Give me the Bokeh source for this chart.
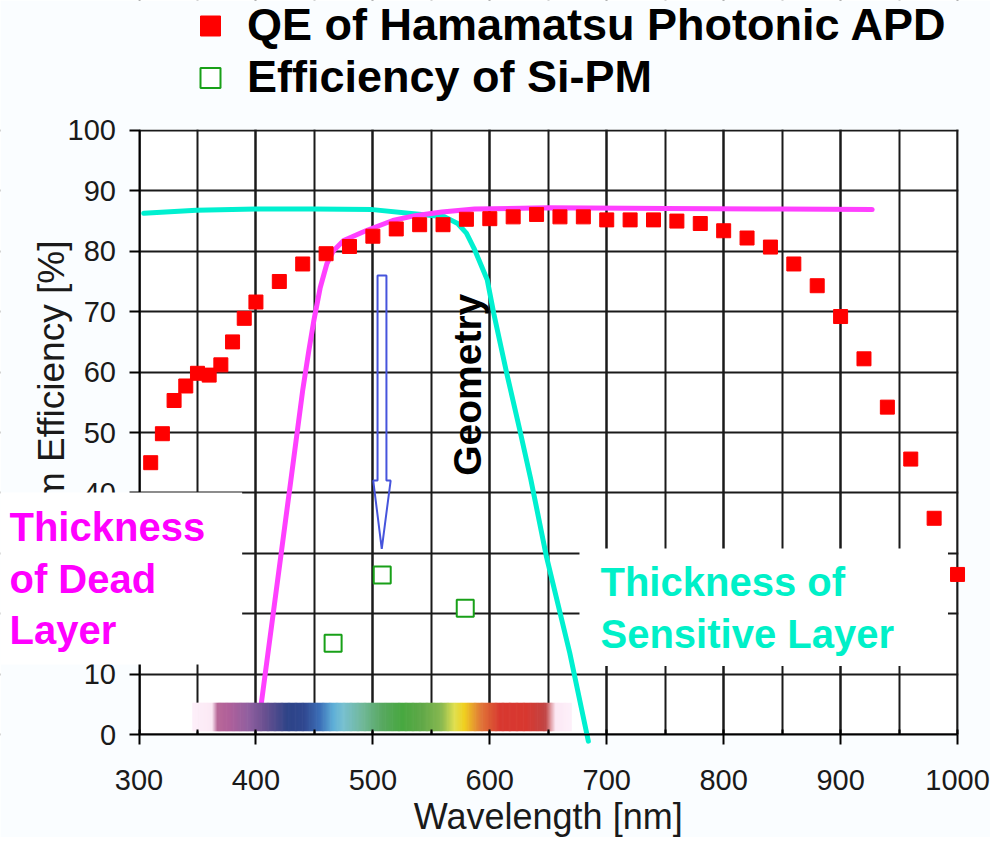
import math
from bokeh.plotting import figure
from bokeh.models import (Range1d, SingleIntervalTicker, Label, Legend, LegendItem,
                          BoxAnnotation)
from bokeh.embed import file_html
from bokeh.resources import INLINE

# ---------------- data ----------------
apd_wavelength = [310, 320, 330, 340, 350, 360, 370, 380, 390, 400,
                  420, 440, 460, 480, 500, 520, 540, 560, 580, 600,
                  620, 640, 660, 680, 700, 720, 740, 760, 780, 800,
                  820, 840, 860, 880, 900, 920, 940, 960, 980, 1000]
apd_qe = [45.0, 49.8, 55.3, 57.7, 59.8, 59.5, 61.2, 65.0, 68.9, 71.6,
          75.0, 77.9, 79.6, 80.8, 82.5, 83.7, 84.4, 84.4, 85.3, 85.4,
          85.7, 86.1, 85.7, 85.7, 85.2, 85.2, 85.2, 85.0, 84.6, 83.4,
          82.2, 80.7, 77.9, 74.3, 69.2, 62.2, 54.2, 45.6, 35.8, 26.5]

sipm_wavelength = [466, 508, 579]
sipm_eff = [15.1, 26.4, 20.9]

dead_layer_wl = [404.7, 429.8, 440.0, 445.2, 449.5, 455.0, 460.6, 466.3, 475.0,
                 494.0, 517.0, 536.0, 559.0, 587.0, 650.0, 750.0, 850.0, 927.0]
dead_layer_val = [5.3, 42.0, 57.0, 63.5, 68.5, 74.0, 77.9, 80.1, 81.8,
                  83.4, 85.1, 85.9, 86.5, 87.0, 87.2, 87.1, 87.0, 86.9]

sens_layer_wl = [304.0, 349.0, 400.0, 449.6, 499.8, 530.6, 561.5, 572.5, 580.0,
                 586.5, 597.8, 603.4, 614.6, 625.8, 635.0, 648.5, 668.4, 684.3]
sens_layer_val = [86.3, 86.8, 87.0, 87.0, 86.9, 86.3, 85.7, 84.6, 83.0,
                  80.5, 75.3, 69.7, 59.7, 50.3, 42.3, 29.4, 13.5, -1.1]

# colour bar of the visible spectrum (stops in nm, colours)
spectrum_nm = [345.5, 362.5, 367.0, 376.8, 393.5, 407.5, 427.1, 441.1, 454.8, 466.3,
               474.7, 491.4, 508.2, 525.0, 541.8, 558.5, 569.7, 578.1, 592.1, 608.9,
               630.9, 647.7, 656.1, 670.4]
spectrum_colors = ["#FDF0FA", "#FBE8F4", "#B86898", "#B0609A", "#9060A0", "#6A5090",
                   "#2E4488", "#304890", "#3C70B8", "#60B0D8", "#78C0D0", "#70B898",
                   "#58A860", "#48A840", "#60A848", "#88B850", "#E0E050", "#F0D020",
                   "#E07838", "#D83830", "#D83830", "#C04444", "#FCE8F4", "#FDF0FA"]
spectrum_bottom, spectrum_top = 0.55, 5.25

# hollow arrow outline (nm, %)
arrow_x = [504.0, 511.6, 511.6, 515.2, 507.6, 500.3, 504.0]
arrow_y = [76.0, 76.0, 42.05, 42.05, 30.75, 42.05, 42.05]

x_axis_start, x_axis_end = 300, 1000
y_axis_start, y_axis_end = 0, 100
x_ticks_interval = 100
y_ticks_interval = 10

FONT = "Liberation Sans"
BG = "#FAFDFF"

# ---------------- figure ----------------
# The frame covers the whole canvas so that the in-chart text boxes and the
# legend are not clipped; both axes are pinned at the chart's origin.
p = figure(width=990, height=837,
           x_range=Range1d(181.55, 1028.2), y_range=Range1d(-17.05, 121.52),
           output_backend="svg", toolbar_location=None,
           min_border_left=0, min_border_right=0,
           min_border_top=0, min_border_bottom=0,
           background_fill_color="white", border_fill_color=BG)
p.outline_line_color = None

xt = SingleIntervalTicker(interval=x_ticks_interval, num_minor_ticks=2)
yt = SingleIntervalTicker(interval=y_ticks_interval, num_minor_ticks=0)
p.xaxis.ticker = xt
p.yaxis.ticker = yt
p.xgrid.ticker = xt
p.ygrid.ticker = yt
p.xaxis.bounds = (x_axis_start, x_axis_end)
p.yaxis.bounds = (y_axis_start, y_axis_end)
p.xgrid.bounds = (x_axis_start, x_axis_end)
p.ygrid.bounds = (y_axis_start, y_axis_end)
p.xaxis.fixed_location = y_axis_start
p.yaxis.fixed_location = x_axis_start

for g in (p.xgrid, p.ygrid):
    g.grid_line_color = "#1a1a1a"
    g.grid_line_width = 2
p.xgrid.minor_grid_line_color = "#1a1a1a"
p.xgrid.minor_grid_line_width = 2

for ax in (p.xaxis, p.yaxis):
    ax.axis_line_color = "black"
    ax.axis_line_width = 2
    ax.major_tick_line_color = "black"
    ax.major_tick_line_width = 2
    ax.major_tick_in = 0
    ax.major_tick_out = 10
    ax.major_label_text_font = FONT
    ax.major_label_text_font_size = "29px"
    ax.major_label_text_color = "#1a1a1a"

p.xaxis.minor_tick_line_color = "black"
p.xaxis.minor_tick_line_width = 2
p.xaxis.minor_tick_in = 5
p.xaxis.minor_tick_out = 0
p.yaxis.minor_tick_line_color = None
p.xaxis.major_label_standoff = 25
p.yaxis.major_label_standoff = 13

# hide the grid outside the chart area
p.add_layout(BoxAnnotation(right=x_axis_start, level="underlay", fill_color=BG,
                           fill_alpha=1, line_color=None))
p.add_layout(BoxAnnotation(left=x_axis_end + 0.9, level="underlay", fill_color=BG,
                           fill_alpha=1, line_color=None))
p.add_layout(BoxAnnotation(bottom=y_axis_end + 0.17, level="underlay", fill_color=BG,
                           fill_alpha=1, line_color=None))
p.add_layout(BoxAnnotation(top=y_axis_start, level="underlay", fill_color=BG,
                           fill_alpha=1, line_color=None))

# axis titles
p.add_layout(Label(x=650, y=-13.6, text="Wavelength [nm]",
                   text_align="center", text_baseline="middle",
                   text_font=FONT, text_font_size="36px", text_color="#1a1a1a"))
p.add_layout(Label(x=225.4, y=50, text="Quantum Efficiency [%]", angle=math.pi / 2,
                   text_align="center", text_baseline="middle",
                   text_font=FONT, text_font_size="37px", text_color="#1a1a1a"))

# ---------------- curves ----------------
p.line(sens_layer_wl, sens_layer_val, line_color="#00F0D0", line_width=5, line_cap="round")
p.line(dead_layer_wl, dead_layer_val, line_color="#FF40FF", line_width=5, line_cap="round")

# spectrum bar
def _hex(c):
    c = c.lstrip("#")
    return [int(c[i:i + 2], 16) for i in (0, 2, 4)]

lefts, rights, cols = [], [], []
step = 1.0
n = int((spectrum_nm[-1] - spectrum_nm[0]) / step)
for i in range(n):
    x0 = spectrum_nm[0] + i * step
    xm = x0 + step / 2
    k = 0
    while k < len(spectrum_nm) - 2 and spectrum_nm[k + 1] < xm:
        k += 1
    t = (xm - spectrum_nm[k]) / (spectrum_nm[k + 1] - spectrum_nm[k])
    t = min(max(t, 0.0), 1.0)
    a, b = _hex(spectrum_colors[k]), _hex(spectrum_colors[k + 1])
    rgb = [round(a[j] + (b[j] - a[j]) * t) for j in range(3)]
    lefts.append(x0)
    rights.append(min(x0 + step * 1.6, spectrum_nm[-1]))
    cols.append("#%02x%02x%02x" % tuple(rgb))
p.quad(left=lefts, right=rights, bottom=spectrum_bottom, top=spectrum_top,
       fill_color=cols, line_color=None)

# hollow arrow
p.patch(arrow_x, arrow_y, fill_color=None, line_color="#4654DC", line_width=2)

# data points
r_apd = p.scatter(apd_wavelength, apd_qe, marker="square", size=14,
                  fill_color="#FF0000", line_color="#FF0000")
r_sipm = p.scatter(sipm_wavelength, sipm_eff, marker="square", size=17,
                   fill_color="white", line_color="#18A018", line_width=2)

# ---------------- annotations ----------------
p.add_layout(Label(x=580.9, y=57.9, text="Geometry", angle=math.pi / 2,
                   text_align="center", text_baseline="middle",
                   text_font=FONT, text_font_style="bold", text_font_size="39px",
                   text_color="black"))

p.add_layout(Label(x=181.55, y=40.07, text="Thickness\nof Dead\nLayer",
                   text_align="left", text_baseline="top", text_line_height=1.17,
                   text_font=FONT, text_font_style="bold", text_font_size="40px",
                   text_color="#FF00FF", background_fill_color="white",
                   padding=dict(left=9, right=37, top=13, bottom=12)))

p.add_layout(Label(x=676.7, y=30.8, text="Thickness of\nSensitive Layer",
                   text_align="left", text_baseline="top", text_line_height=1.17,
                   text_font=FONT, text_font_style="bold", text_font_size="40px",
                   text_color="#00F0C8", background_fill_color="white",
                   padding=dict(left=21, right=54, top=12, bottom=10)))

legend = Legend(items=[LegendItem(label="QE of Hamamatsu Photonic APD", renderers=[r_apd]),
                       LegendItem(label="Efficiency of Si-PM", renderers=[r_sipm])],
                location=(185, 734), orientation="vertical",
                padding=0, margin=0, spacing=0,
                glyph_width=50, glyph_height=51, label_height=51, label_standoff=12,
                label_text_font=FONT, label_text_font_style="bold",
                label_text_font_size="45px", label_text_color="black",
                border_line_color=None, background_fill_alpha=0)
p.add_layout(legend)

open("out.html", "w").write(file_html(p, INLINE))
